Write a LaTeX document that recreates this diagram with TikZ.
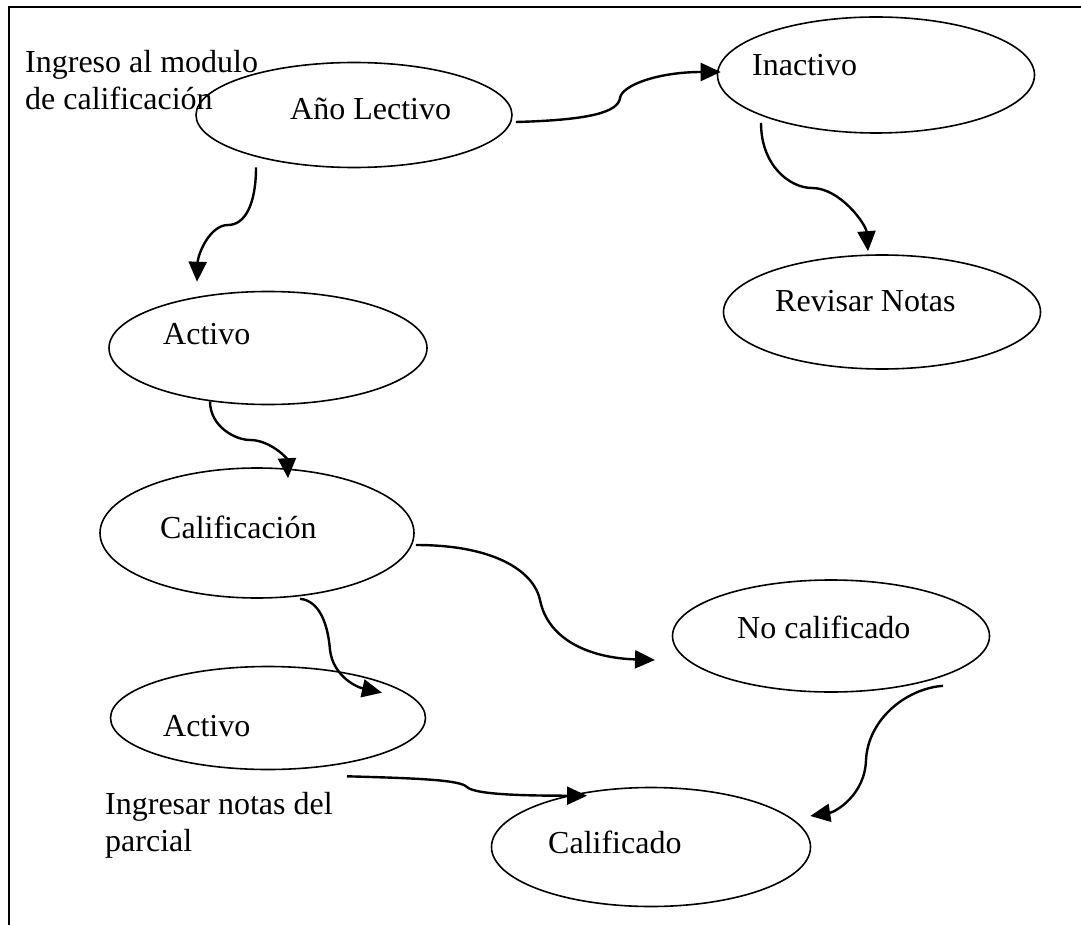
\documentclass[tikz,border=0pt]{standalone}
\usepackage{fontspec}
\setmainfont{Liberation Serif}
\usetikzlibrary{shapes.geometric,arrows.meta,calc}
\begin{document}
\begin{tikzpicture}[x=1pt,y=-1pt,
  state/.style={ellipse,draw,line width=1.6pt,inner sep=0pt},
  lbl/.style={anchor=base west,inner sep=0pt,font=\fontsize{32}{37}\selectfont},
  conn/.style={line width=2.4pt,-{Triangle[length=20pt,width=18pt]}}]
\useasboundingbox (0,0) rectangle (1081,925);
% frame
\draw[line width=2pt] (9,925) -- (9,7) -- (1081,7);

% states
\node[state,minimum width=316pt,minimum height=105pt] (ano)   at (354,115) {};
\node[state,minimum width=317pt,minimum height=116pt] (inact) at (876,75)  {};
\node[state,minimum width=317pt,minimum height=114pt] (rev)   at (882,312) {};
\node[state,minimum width=318pt,minimum height=113pt] (act1)  at (268,348) {};
\node[state,minimum width=314pt,minimum height=130pt] (cal)   at (257,533) {};
\node[state,minimum width=317pt,minimum height=112pt] (nocal) at (831,636) {};
\node[state,minimum width=315pt,minimum height=103pt] (act2)  at (268,718) {};
\node[state,minimum width=319pt,minimum height=119pt] (calif) at (651,847) {};

% state labels
\node[lbl] (tano)   at (290,120) {Año Lectivo};
\node[lbl] (tinact) at (752,76)  {Inactivo};
\node[lbl] (trev)   at (775,311) {Revisar Notas};
\node[lbl] (tact1)  at (163,344) {Activo};
\node[lbl] (tcal)   at (160,538) {Calificación};
\node[lbl] (tnocal) at (737,638) {No calificado};
\node[lbl] (tact2)  at (163,736) {Activo};
\node[lbl] (tcalif) at (548,853) {Calificado};

% free notes
\node[lbl] (ing1) at (25,73)  {Ingreso al modulo};
\node[lbl] (ing2) at (25,110) {de calificación};
\node[lbl] (par1) at (105,814) {Ingresar notas del};
\node[lbl] (par2) at (105,851) {parcial};

% connector bends
\coordinate (ka) at (620,98);
\coordinate (kb) at (228,225);
\coordinate (kc) at (812,188);
\coordinate (kd) at (250,440);
\coordinate (ke) at (540,600);
\coordinate (kf) at (330,650);
\coordinate (kg) at (866,760);
\coordinate (kh) at (467,787);
\coordinate (ee) at (655,660);

% transitions
\draw[conn] ($(ano.east)+(3,7)$) .. controls +(75,-2) and +(-2,14) .. (ka)
            .. controls +(2,-13) and +(-62,0) .. ($(inact.west)+(4,-3)$);
\draw[conn] ($(ano.south)+(-98,-1)$) .. controls +(0,37) and +(17,0) .. (kb)
            .. controls +(-18,0) and +(1,-28) .. ($(act1.north)+(-71,-9)$);
\draw[conn] ($(inact.south)+(-115,-11)$) .. controls +(0,43) and +(-22,0) .. (kc)
            .. controls +(28,0) and +(-2,-27) .. ($(rev.north)+(-14,-3)$);
\draw[conn] ($(act1.south)+(-58,-4)$) .. controls +(0,25) and +(-15,0) .. (kd)
            .. controls +(20,0) and +(-1,-20) .. ($(cal.north)+(31,11)$);
\draw[conn] ($(cal.east)+(1,12)$) .. controls +(85,0) and +(-5,-25) .. (ke)
            .. controls +(8,40) and +(-65,-2) .. (ee);
\draw[conn] ($(cal.south)+(43,0)$) .. controls +(20,2) and +(-2,-25) .. (kf)
            .. controls +(3,25) and +(-27,-6) .. ($(act2.north)+(114,27)$);
\draw[conn] ($(nocal.south)+(112,-7)$) .. controls +(-38,3) and +(2,-40) .. (kg)
            .. controls +(-1,35) and +(25,-4) .. ($(calif.east)+(-1,-31)$);
\draw[conn] ($(act2.south)+(79,6)$) .. controls +(73,2) and +(-7,-7) .. (kh)
            .. controls +(8,8) and +(-57,0) .. ($(calif.north)+(-64,9)$);
\end{tikzpicture}
\end{document}
